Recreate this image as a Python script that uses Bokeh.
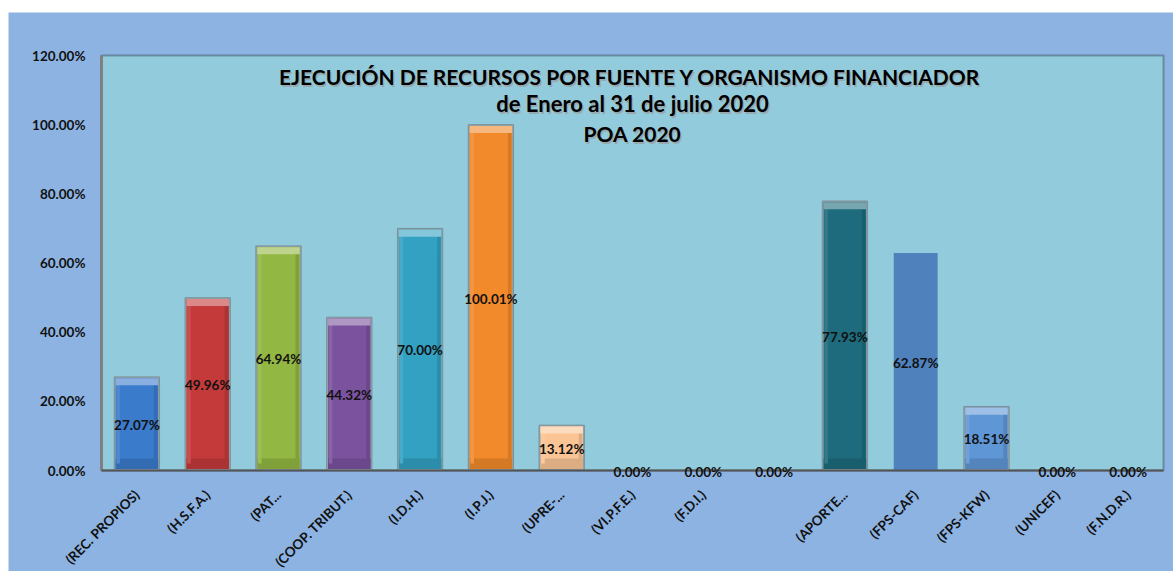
from bokeh.plotting import figure
from bokeh.models import Range1d, Label, Spacer, BoxAnnotation
from bokeh.layouts import column, row
from bokeh.embed import file_html
from bokeh.resources import INLINE

categories = ["(REC. PROPIOS)", "(H.S.F.A.)", "(PAT...", "(COOP. TRIBUT.)", "(I.D.H.)",
              "(I.P.J.)", "(UPRE-...", "(VI.P.F.E.)", "(F.D.I.)", "",
              "(APORTE...", "(FPS-CAF)", "(FPS-KFW)", "(UNICEF)", "(F.N.D.R.)"]
values = [0.2707, 0.4996, 0.6494, 0.4432, 0.7000,
          1.0001, 0.1312, 0.0, 0.0, 0.0,
          0.7793, 0.6287, 0.1851, 0.0, 0.0]
colors = ["#3A7BCC", "#C43A3A", "#92B743", "#7A529E", "#33A1C2",
          "#F28A2C", "#FBC494", "#4F81BD", "#4F81BD", "#4F81BD",
          "#1D6B7C", "#4F81BD", "#5F96D6", "#4F81BD", "#4F81BD"]
bevel = [True, True, True, True, True, True, True, False, False, False,
         True, False, True, False, False]
y_ticks = [0, 0.2, 0.4, 0.6, 0.8, 1.0, 1.2]
title_lines = ["EJECUCIÓN  DE RECURSOS POR FUENTE Y ORGANISMO FINANCIADOR",
               "de Enero al 31 de julio 2020",
               "POA 2020"]

def lighten(h, f):
    r, g, b = int(h[1:3], 16), int(h[3:5], 16), int(h[5:7], 16)
    r = int(r + (255 - r) * f); g = int(g + (255 - g) * f); b = int(b + (255 - b) * f)
    return "#%02x%02x%02x" % (r, g, b)

def darken(h, f):
    r, g, b = int(h[1:3], 16), int(h[3:5], 16), int(h[5:7], 16)
    return "#%02x%02x%02x" % (int(r * (1 - f)), int(g * (1 - f)), int(b * (1 - f)))

xs = list(range(len(categories)))
FONT = "Lato"
BLUE = "#8DB3E2"
YMAX = y_ticks[-1]
FIG_W, FIG_H = 1165, 559
# plot-area placement inside the figure (pixels)
A_LEFT, A_RIGHT, A_TOP, A_BOTTOM = 93, 1155, 43, 458
n = len(categories)
ppx = (A_RIGHT - A_LEFT) / n
ppy = (A_BOTTOM - A_TOP) / YMAX
x0, x1 = -0.5, n - 0.5
xr = Range1d(x0 - A_LEFT / ppx, x1 + (FIG_W - A_RIGHT) / ppx)
yr = Range1d(-(FIG_H - A_BOTTOM) / ppy, YMAX + A_TOP / ppy)

p = figure(width=FIG_W, height=FIG_H, x_range=xr, y_range=yr,
           output_backend="svg", toolbar_location=None, min_border=0,
           min_border_left=0, min_border_right=0, min_border_top=0, min_border_bottom=0)
p.border_fill_color = BLUE
p.background_fill_color = BLUE
p.outline_line_color = None
p.xgrid.grid_line_color = None
p.ygrid.grid_line_color = None
p.xaxis.visible = False
p.yaxis.visible = False

# plot area (0..YMAX)
p.add_layout(BoxAnnotation(left=x0, right=x1, bottom=0, top=YMAX, fill_color="#92CCDC",
                           fill_alpha=1, line_color="#111111", line_width=2, level="underlay"))

# flat bars
flat = [(x, v, c) for x, v, c, b in zip(xs, values, colors, bevel) if v > 0 and not b]
p.vbar(x=[f[0] for f in flat], top=[f[1] for f in flat], bottom=0, width=0.62,
       fill_color=[f[2] for f in flat], line_color=None)

# bevelled bars
bv = [(x, v, c) for x, v, c, b in zip(xs, values, colors, bevel) if v > 0 and b]
bevx = [f[0] for f in bv]
bevv = [f[1] for f in bv]
bevc = [f[2] for f in bv]
p.vbar(x=bevx, top=bevv, bottom=0, width=0.64, fill_color="#8FA3AA", line_color="#7D9098", line_width=1)
p.vbar(x=bevx, top=[v - 0.004 for v in bevv], bottom=0.004, width=0.60,
       fill_color=bevc, line_color=None)
p.vbar(x=bevx, top=0.035, bottom=0.004, width=0.60,
       fill_color=[darken(c, 0.12) for c in bevc], line_color=None)
p.vbar(x=[x - 0.265 for x in bevx], top=[v - 0.02 for v in bevv], bottom=0.02, width=0.05,
       fill_color=[lighten(c, 0.10) for c in bevc], line_color=None)
p.vbar(x=[x + 0.265 for x in bevx], top=[v - 0.02 for v in bevv], bottom=0.02, width=0.05,
       fill_color=[darken(c, 0.12) for c in bevc], line_color=None)
p.vbar(x=bevx, top=[v - 0.004 for v in bevv], bottom=[v - 0.024 for v in bevv], width=0.60,
       fill_color=[lighten(c, 0.40) for c in bevc], line_color=None)

# axis lines (left gray, bottom dark gray)
p.segment(x0=[x0], y0=[0], x1=[x0], y1=[YMAX], line_color="#808080", line_width=3)
p.segment(x0=[x0], y0=[0], x1=[x1], y1=[0], line_color="#555555", line_width=2)

# y tick labels
for t in y_ticks:
    p.add_layout(Label(x=x0, y=t, x_offset=-16, text="%.2f%%" % (t * 100), text_align="right",
                       text_baseline="middle", text_font=FONT, text_font_style="bold",
                       text_font_size="13.5px", text_color="#111111"))

# data labels
for x, v in zip(xs, values):
    p.add_layout(Label(x=x, y=v / 2, y_offset=-1, text="%.2f%%" % (v * 100), text_align="center",
                       text_baseline="middle", text_font=FONT, text_font_style="bold",
                       text_font_size="13.5px", text_color="#111111"))

# category labels as rotated text below the axis
for x, c in zip(xs, categories):
    if c:
        p.add_layout(Label(x=x, y=0, y_offset=-22, text=c, angle=0.785398,
                           text_align="right", text_baseline="middle", text_font=FONT,
                           text_font_style="bold", text_font_size="13.5px", text_color="#111111"))

# title inside plot
for (txt, y, sz) in zip(title_lines, [1.139, 1.061, 0.974], ["21px", "22px", "21px"]):
    p.add_layout(Label(x=(x0 + x1) / 2, y=y, x_offset=1.5, y_offset=-1.5, text=txt, text_align="center",
                       text_baseline="middle", text_font=FONT, text_font_style="bold",
                       text_font_size=sz, text_color="#9a9a9a", text_alpha=0.7))
    p.add_layout(Label(x=(x0 + x1) / 2, y=y, text=txt, text_align="center", text_baseline="middle",
                       text_font=FONT, text_font_style="bold", text_font_size=sz, text_color="#000000"))

layout = column(Spacer(height=12, width=1173), row(Spacer(width=8, height=FIG_H), p))
open("out.html", "w").write(file_html(layout, INLINE))
